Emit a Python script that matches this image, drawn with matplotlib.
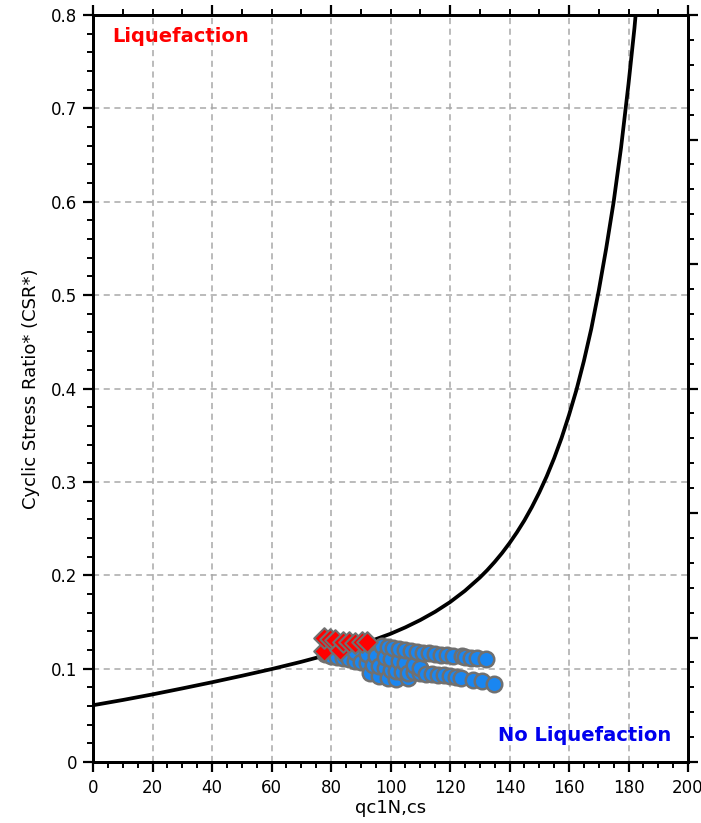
import matplotlib
matplotlib.use("Agg")
import matplotlib.pyplot as plt
from matplotlib.ticker import MultipleLocator, NullFormatter

# Boundary curve (CRR vs normalized tip resistance)
curve_q = [0, 10, 20, 30, 40, 50, 60, 70, 80, 90, 100, 105, 110, 115, 120,
           125, 130, 132.5, 135, 137.5, 140, 142.5, 145, 147.5, 150, 152.5,
           155, 157.5, 160, 162.5, 165, 167.5, 170, 172.5, 175, 177.5, 180,
           181, 182, 183]
curve_csr = [0.0608, 0.0664, 0.0724, 0.0788, 0.0854, 0.0923, 0.0995, 0.1073,
             0.1158, 0.1256, 0.1373, 0.1442, 0.1520, 0.1609, 0.1712,
             0.1833, 0.1974, 0.2054, 0.2142, 0.2238, 0.2344, 0.2460,
             0.2587, 0.2729, 0.2886, 0.3059, 0.3253, 0.3470, 0.3716,
             0.3985, 0.4294, 0.4641, 0.5048, 0.5500, 0.5997, 0.6580,
             0.7261, 0.7560, 0.7860, 0.8214]

# Points that plot above the boundary (liquefiable)
liq_q = [77.5, 77.5, 79.5, 81.5, 83.0, 84.0, 86.0, 88.0, 90.5, 92.0]
liq_csr = [0.133, 0.119, 0.132, 0.131, 0.120, 0.129, 0.128, 0.127, 0.129, 0.128]

# Points that plot below the boundary (non-liquefiable)
nonliq_q = [78, 80, 82, 84, 86, 88, 90, 92, 94, 96, 97, 98, 99, 100, 101,
            102, 103, 104, 105, 106, 107, 108, 109, 110, 111, 112, 113, 114,
            115, 116, 117, 118, 119, 120, 121, 122, 123.6, 124, 125, 127,
            127.6, 129, 130.6, 132, 134.7,
            88, 92, 95, 98, 100, 103, 105, 108, 93, 96, 99, 102, 106, 110]
nonliq_csr = [0.116, 0.114, 0.112, 0.111, 0.110, 0.108, 0.107, 0.106, 0.104,
              0.103, 0.124, 0.101, 0.123, 0.098, 0.1225, 0.097, 0.121, 0.096,
              0.120, 0.095, 0.119, 0.096, 0.118, 0.095, 0.117, 0.094, 0.1165,
              0.094, 0.116, 0.093, 0.115, 0.093, 0.115, 0.092, 0.114, 0.091,
              0.090, 0.113, 0.112, 0.111, 0.088, 0.111, 0.087, 0.110, 0.0835,
              0.118, 0.116, 0.114, 0.112, 0.110, 0.108, 0.106, 0.104,
              0.095, 0.092, 0.090, 0.089, 0.090, 0.101]

x_ticks = [0, 20, 40, 60, 80, 100, 120, 140, 160, 180, 200]
y_ticks = [0, 0.1, 0.2, 0.3, 0.4, 0.5, 0.6, 0.7, 0.8]
y_tick_labels = ["0", "0.1", "0.2", "0.3", "0.4", "0.5", "0.6", "0.7", "0.8"]

W, H = 701, 823
fig = plt.figure(figsize=(W / 100, H / 100), dpi=100)
ax = fig.add_axes([93 / W, (H - 762) / H, 595 / W, 747 / H])

ax.set_xlim(0, 200)
ax.set_ylim(0, 0.8)

ax.set_xticks(x_ticks)
ax.set_yticks(y_ticks)
ax.set_yticklabels(y_tick_labels)
ax.xaxis.set_minor_locator(MultipleLocator(5))
ax.yaxis.set_minor_locator(MultipleLocator(0.02))
ax.grid(True, which="major", color="#a8a8a8", linestyle=(0, (4, 3)),
        linewidth=1.1, zorder=0)
ax.set_axisbelow(True)

ax.plot(curve_q, curve_csr, color="black", linewidth=2.7, zorder=3,
        solid_joinstyle="round")

edge = "#707070"
# draw points in order of increasing q so later ones sit on top
pts = sorted(zip(nonliq_q, nonliq_csr))
ax.scatter([p[0] for p in pts], [p[1] for p in pts], s=125, marker="o",
           facecolor="#1a86f0", edgecolor=edge, linewidth=1.8, zorder=4)
lpts = sorted(zip(liq_q, liq_csr))
ax.scatter([p[0] for p in lpts], [p[1] for p in lpts], s=110, marker="D",
           facecolor="#ff0000", edgecolor=edge, linewidth=1.5, zorder=5)

ax.text(6.5, 0.7765, "Liquefaction", color="#ff0000", fontsize=14,
        fontweight="bold", ha="left", va="center", family="DejaVu Sans")
ax.text(194.5, 0.0285, "No Liquefaction", color="#0000ee", fontsize=14,
        fontweight="bold", ha="right", va="center", family="DejaVu Sans")

for side in ["left", "bottom", "top", "right"]:
    ax.spines[side].set_linewidth(2.0)
    ax.spines[side].set_color("black")

ax.tick_params(axis="both", which="major", direction="out", length=7.5,
               width=1.6, color="black")
ax.tick_params(axis="both", which="minor", direction="out", length=4,
               width=1.4, color="black")
ax.tick_params(axis="y", which="major", labelsize=12, pad=4)
ax.tick_params(axis="x", which="major", labelsize=12, pad=5)
for lab in ax.get_xticklabels():
    lab.set_family(["Liberation Sans Narrow", "DejaVu Sans"])
for lab in ax.get_yticklabels():
    lab.set_family("DejaVu Sans")

ax.set_xlabel("qc1N,cs", fontsize=13, labelpad=1,
              family=["Liberation Sans Narrow", "DejaVu Sans"])
ax.set_ylabel("Cyclic Stress Ratio* (CSR*)", fontsize=13, labelpad=8,
              family="DejaVu Sans")

# top and right axes carry ticks only
ax_top = ax.twiny()
ax_top.set_xlim(0, 200)
ax_top.xaxis.set_major_locator(MultipleLocator(40))
ax_top.xaxis.set_minor_locator(MultipleLocator(10))
ax_top.xaxis.set_major_formatter(NullFormatter())
ax_top.tick_params(axis="x", which="major", direction="out", length=7.5,
                   width=1.6)
ax_top.tick_params(axis="x", which="minor", direction="out", length=4,
                   width=1.4)

ax_right = ax.twinx()
ax_right.set_ylim(0, 30)
ax_right.yaxis.set_major_locator(MultipleLocator(5))
ax_right.yaxis.set_minor_locator(MultipleLocator(1))
ax_right.yaxis.set_major_formatter(NullFormatter())
ax_right.tick_params(axis="y", which="major", direction="out", length=7.5,
                     width=1.6)
ax_right.tick_params(axis="y", which="minor", direction="out", length=4,
                     width=1.4)
for a in (ax_top, ax_right):
    for side in a.spines.values():
        side.set_linewidth(2.0)

fig.savefig("out.png", dpi=100)
